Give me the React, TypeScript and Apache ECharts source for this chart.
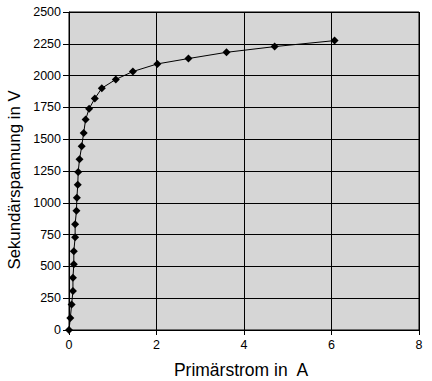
import React, { useEffect, useRef } from "react";
import * as echarts from "echarts";

const primaryCurrent = [0, 0.03, 0.06, 0.09, 0.09, 0.11, 0.11, 0.14, 0.14, 0.17, 0.18, 0.2, 0.21, 0.24, 0.29, 0.335, 0.38, 0.46, 0.59, 0.75, 1.07, 1.46, 2.02, 2.73, 3.6, 4.7, 6.07];
const secondaryVoltage = [0, 94, 201, 306, 410, 517, 619, 729, 831, 937, 1039, 1141, 1243, 1342, 1444, 1549, 1655, 1740, 1820, 1901, 1970, 2032, 2092, 2134, 2183, 2228, 2275];
const xTitle = "Primärstrom in  A";
const yTitle = "Sekundärspannung in V";

const FONT = "Liberation Sans, Arial, sans-serif";

export default function App() {
  const ref = useRef<HTMLDivElement>(null);
  useEffect(() => {
    const chart = echarts.init(ref.current!, null, { renderer: "svg" });
    const data = primaryCurrent.map((x, i) => [x, secondaryVoltage[i]]);
    chart.setOption({
      animation: false,
      backgroundColor: "#ffffff",
      grid: {
        left: 69, right: 13, top: 12, bottom: 51,
        containLabel: false, outerBoundsMode: "none",
        show: true, backgroundColor: "#d6d6d6", borderColor: "#000", borderWidth: 1,
      },
      graphic: [
        {
          type: "text", x: 241, y: 369.5,
          style: { text: xTitle, font: `17.5px ${FONT}`, fill: "#000", align: "center", verticalAlign: "middle" },
        },
        {
          type: "text", x: 14, y: 180, rotation: Math.PI / 2,
          style: { text: yTitle, font: `16.8px ${FONT}`, fill: "#000", align: "center", verticalAlign: "middle" },
        },
      ],
      xAxis: {
        type: "value", min: 0, max: 8, interval: 2,
        axisLine: { show: true, lineStyle: { color: "#000", width: 1 } },
        axisTick: { show: true, length: 5, lineStyle: { color: "#000" } },
        axisLabel: { fontFamily: FONT, fontSize: 12.5, color: "#000", margin: 8 },
        splitLine: { show: true, lineStyle: { color: "#000", width: 1 } },
      },
      yAxis: {
        type: "value", min: 0, max: 2500, interval: 250,
        axisLine: { show: true, lineStyle: { color: "#000", width: 1 } },
        axisTick: { show: true, length: 6, lineStyle: { color: "#000" } },
        axisLabel: { fontFamily: FONT, fontSize: 12.5, color: "#000", margin: 8, formatter: (v: number) => String(v) },
        splitLine: { show: true, lineStyle: { color: "#000", width: 1 } },
      },
      series: [{
        type: "line",
        data,
        symbol: "diamond",
        symbolSize: 8,
        itemStyle: { color: "#000" },
        lineStyle: { color: "#000", width: 1 },
      }],
    });
    return () => chart.dispose();
  }, []);
  return <div ref={ref} style={{ width: 432, height: 381, position: "absolute", left: 0, top: 0 }} />;
}
